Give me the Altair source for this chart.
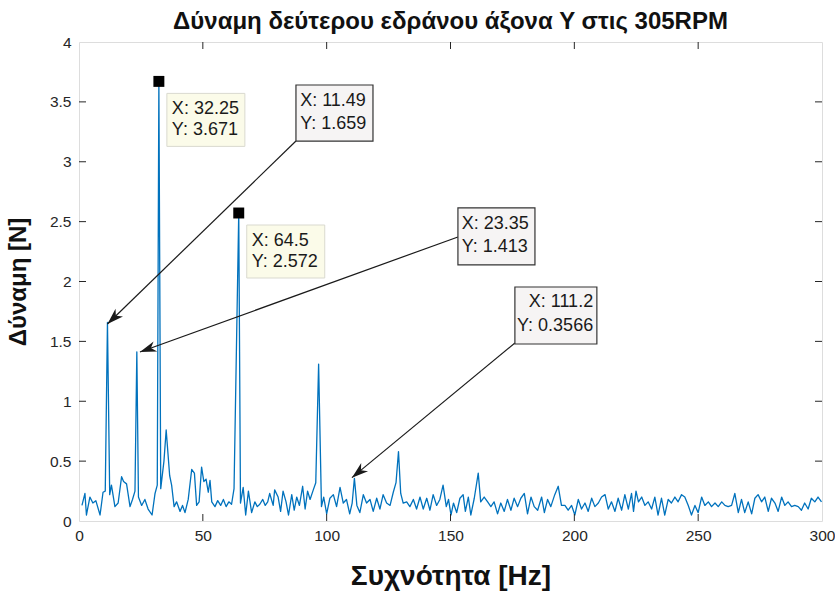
import math
import altair as alt
import pandas as pd

# ---------------- data ----------------
freq_a = [1.2, 2.4, 3.0, 4.4, 5.6, 6.8, 8.5, 9.7, 10.6, 11.49, 12.4, 13.1, 14.5, 15.8, 17.2, 18.0,
          19.2, 20.6, 21.6, 22.6, 23.35, 24.0, 25.3, 26.6, 27.9, 29.5, 30.7, 31.6, 32.25, 33.0,
          34.3, 35.2, 36.6, 37.4, 38.4, 39.4, 40.8, 41.8, 42.8, 44.1, 45.5, 46.6, 47.5, 48.5,
          49.5, 50.4, 51.3, 52.2, 52.9, 53.6, 54.9, 56.0, 57.2, 58.3, 59.4, 60.5, 61.6, 62.6,
          64.5, 65.2, 66.3, 67.3, 68.4, 69.7, 71.0, 72.0, 73.0, 74.2]
force_a = [0.13, 0.23, 0.05, 0.20, 0.15, 0.17, 0.05, 0.24, 0.25, 1.659, 0.22, 0.30, 0.12, 0.15, 0.37, 0.33,
           0.31, 0.12, 0.18, 0.25, 1.413, 0.20, 0.13, 0.18, 0.10, 0.05, 0.23, 0.30, 3.671, 0.27,
           0.50, 0.76, 0.38, 0.30, 0.12, 0.16, 0.08, 0.13, 0.07, 0.18, 0.43, 0.40, 0.13, 0.16,
           0.45, 0.33, 0.35, 0.24, 0.34, 0.16, 0.12, 0.17, 0.13, 0.18, 0.12, 0.16, 0.14, 0.27,
           2.572, 0.15, 0.28, 0.05, 0.25, 0.07, 0.16, 0.12, 0.14, 0.18]

freq_b = [75.2, 76.2, 77.0, 78.4, 79.0, 80.4, 81.4, 82.4, 83.6, 84.6, 85.9, 86.9, 87.9, 89.0,
          90.3, 91.3, 92.3, 93.3, 94.6, 95.6, 96.75, 97.9, 98.8, 100.0, 101.3, 102.7, 104.0,
          105.4, 106.7, 108.0, 109.3, 110.3, 111.2, 112.2, 113.4, 114.8, 116.1, 117.5, 118.8,
          120.2, 121.5, 122.8, 124.2, 125.6, 126.9, 128.0, 129.0, 129.9, 130.9, 132.3, 133.6,
          135.0, 136.3, 137.7, 139.0, 140.4, 141.7, 143.0, 144.4, 145.7, 147.0, 148.3, 149.2]
force_b = [0.13, 0.16, 0.23, 0.13, 0.26, 0.20, 0.08, 0.25, 0.16, 0.05, 0.22, 0.09, 0.20, 0.13,
           0.29, 0.10, 0.25, 0.18, 0.26, 0.32, 1.31, 0.12, 0.20, 0.06, 0.19, 0.22, 0.12,
           0.28, 0.15, 0.18, 0.06, 0.15, 0.3566, 0.13, 0.07, 0.22, 0.15, 0.18, 0.08,
           0.19, 0.10, 0.22, 0.15, 0.13, 0.24, 0.32, 0.58, 0.23, 0.15, 0.16, 0.12,
           0.18, 0.10, 0.20, 0.10, 0.19, 0.09, 0.22, 0.13, 0.18, 0.30, 0.12, 0.18]

freq_c = [150.2, 151.2, 152.5, 153.8, 155.1, 156.0, 157.2, 158.2, 159.6, 161.2, 162.2, 163.6,
          165.0, 166.3, 167.6, 169.0, 170.3, 171.7, 173.0, 174.4, 175.7, 177.1, 178.4, 179.8,
          181.1, 182.5, 183.8, 185.2, 186.8, 187.9, 189.2, 190.5, 192.1, 193.5, 194.8, 196.2,
          197.5, 198.9, 200.2, 201.6, 202.9, 204.3, 205.6, 207.0, 208.3, 209.7, 211.0, 212.4,
          213.7, 215.0, 216.4, 217.7, 219.1, 220.4, 221.8, 223.1, 223.9]
force_c = [0.05, 0.15, 0.07, 0.19, 0.22, 0.08, 0.20, 0.05, 0.19, 0.40, 0.16, 0.20,
           0.16, 0.12, 0.16, 0.06, 0.15, 0.08, 0.18, 0.09, 0.19, 0.12, 0.19, 0.23,
           0.06, 0.20, 0.12, 0.09, 0.20, 0.07, 0.18, 0.12, 0.22, 0.29, 0.13, 0.13,
           0.09, 0.13, 0.05, 0.18, 0.10, 0.15, 0.08, 0.19, 0.12, 0.15, 0.20, 0.22,
           0.10, 0.16, 0.08, 0.19, 0.09, 0.22, 0.10, 0.23, 0.08]

freq_d = [224.9, 225.9, 227.2, 228.5, 229.8, 231.2, 232.5, 233.8, 235.2, 236.5, 237.9, 239.2,
          240.6, 241.9, 243.3, 244.6, 246.0, 247.3, 248.7, 250.0, 251.4, 252.7, 254.1, 255.4,
          256.8, 258.1, 259.5, 260.8, 262.1, 263.5, 264.8, 266.2, 267.5, 268.8, 270.2, 271.6,
          272.9, 274.2, 275.6, 276.9, 278.3, 279.6, 281.0, 282.3, 283.7, 285.0, 286.3, 287.7,
          289.0, 290.4, 291.7, 293.0, 294.4, 295.7, 297.1, 298.4, 299.8]
force_d = [0.25, 0.16, 0.20, 0.13, 0.16, 0.10, 0.20, 0.05, 0.19, 0.05, 0.18, 0.15,
           0.20, 0.16, 0.22, 0.20, 0.13, 0.05, 0.13, 0.07, 0.20, 0.13, 0.16, 0.12,
           0.15, 0.12, 0.16, 0.13, 0.12, 0.13, 0.23, 0.07, 0.18, 0.07, 0.16, 0.06,
           0.19, 0.22, 0.16, 0.20, 0.08, 0.19, 0.15, 0.08, 0.20, 0.13, 0.16, 0.12,
           0.13, 0.12, 0.09, 0.15, 0.10, 0.19, 0.16, 0.20, 0.16]

x_ticks = [0, 50, 100, 150, 200, 250, 300]
y_ticks = [0, 0.5, 1, 1.5, 2, 2.5, 3, 3.5, 4]

# data tips (marker + yellow box)
tip_x = [32.25, 64.5]
tip_y = [3.671, 2.572]
tip_label_x = ["X: 32.25", "X: 64.5"]
tip_label_y = ["Y: 3.671", "Y: 2.572"]

# arrow annotations
ann_x = [11.49, 23.35, 111.2]
ann_y = [1.659, 1.413, 0.3566]
ann_label_x = ["X: 11.49", "X: 23.35", "X: 111.2"]
ann_label_y = ["Y: 1.659", "Y: 1.413", "Y: 0.3566"]

# ---------------- layout ----------------
W, H = 743, 479
PX_X = W / 300.0
PX_Y = H / 4.0
FONT = "Liberation Sans"
DARK = "#262626"
TFS = 18  # annotation text size

df = pd.DataFrame({"f": freq_a + freq_b + freq_c + freq_d,
                   "a": force_a + force_b + force_c + force_d})

xs = alt.Scale(domain=[0, 300], nice=False, zero=False)
ys = alt.Scale(domain=[0, 4], nice=False, zero=False)
xaxis = alt.Axis(values=x_ticks, ticks=False, domain=False, grid=False, labelFont=FONT,
                 labelFontSize=15.5, labelColor=DARK, labelPadding=7, labelFlush=False,
                 titleFont=FONT, titleFontSize=28, titleFontWeight="bold", titleColor="#111111",
                 titlePadding=19)
yaxis = alt.Axis(values=y_ticks, format="~g", ticks=False, domain=False, grid=False,
                 labelFont=FONT, labelFontSize=15.5, labelColor=DARK, labelPadding=8,
                 labelFlush=False, titleFont=FONT, titleFontSize=24, titleFontWeight="bold",
                 titleColor="#111111", titlePadding=19)
XT = "Συχνότητα [Hz]"
YT = "Δύναμη [N]"


def X(field, **kw):
    return alt.X(field, type="quantitative", scale=xs, axis=xaxis, title=XT, **kw)


def Y(field, **kw):
    return alt.Y(field, type="quantitative", scale=ys, axis=yaxis, title=YT, **kw)


line = alt.Chart(df).mark_line(color="#0072BD", strokeWidth=1.3, strokeJoin="round").encode(
    x=X("f"), y=Y("a"), order="f:Q")

# inward ticks on all four sides
xt = pd.DataFrame({"t": x_ticks[1:-1]})
yt = pd.DataFrame({"t": y_ticks[1:-1]})
tick_bottom = alt.Chart(xt).mark_rule(color=DARK, strokeWidth=1).encode(
    x=X("t"), y=alt.value(H), y2=alt.value(H - 7))
tick_top = alt.Chart(xt).mark_rule(color=DARK, strokeWidth=1).encode(
    x=X("t"), y=alt.value(0), y2=alt.value(7))
tick_left = alt.Chart(yt).mark_rule(color=DARK, strokeWidth=1).encode(
    y=Y("t"), x=alt.value(0), x2=alt.value(7))
tick_right = alt.Chart(yt).mark_rule(color=DARK, strokeWidth=1).encode(
    y=Y("t"), x=alt.value(W), x2=alt.value(W - 7))

# ---- data tips: boxes placed to the lower right of the marker ----
tips = pd.DataFrame({"x": tip_x, "y": tip_y, "lx": tip_label_x, "ly": tip_label_y})
tips["bx0"] = tips["x"] + 8 / PX_X
tips["bx1"] = tips["bx0"] + 78 / PX_X
tips["by0"] = tips["y"] - 12 / PX_Y
tips["by1"] = tips["by0"] - 53 / PX_Y
tips["tx"] = tips["bx0"] + 5 / PX_X
tips["ty1"] = tips["by0"] - 16 / PX_Y
tips["ty2"] = tips["by0"] - 37 / PX_Y

tip_box = alt.Chart(tips).mark_rect(fill="#fbfbe9", stroke="#d9d9cf", strokeWidth=1).encode(
    x=X("bx0"), x2="bx1", y=Y("by0"), y2="by1")
tip_t1 = alt.Chart(tips).mark_text(align="left", baseline="middle", font=FONT, fontSize=TFS,
                                   color="#1a1a1a").encode(x=X("tx"), y=Y("ty1"), text="lx:N")
tip_t2 = alt.Chart(tips).mark_text(align="left", baseline="middle", font=FONT, fontSize=TFS,
                                   color="#1a1a1a").encode(x=X("tx"), y=Y("ty2"), text="ly:N")
tip_marker = alt.Chart(tips).mark_square(color="black", opacity=1, size=120, filled=True).encode(
    x=X("x"), y=Y("y"))

# ---- arrow annotations (box positions in data units) ----
ann = pd.DataFrame({"x": ann_x, "y": ann_y, "lx": ann_label_x, "ly": ann_label_y})
ann["bx0"] = [87.6, 153.0, 176.0]
ann["bx1"] = [118.7, 184.1, 209.1]
ann["by0"] = [3.641, 2.614, 1.954]
ann["by1"] = [3.173, 2.138, 1.478]
ann["sx"] = [87.6, 153.0, 176.0]       # arrow start
ann["sy"] = [3.173, 2.372, 1.486]
ann["ex"] = [11.49, 24.6, 110.2]        # arrow tip
ann["ey"] = [1.645, 1.411, 0.362]
ann["align"] = ["left", "left", "right"]
ann["tx"] = [89.3, 154.5, 207.6]
ann["ty1"] = [3.507, 2.480, 1.829]
ann["ty2"] = [3.315, 2.288, 1.628]
ang = []
for sx, sy, ex, ey in zip(ann["sx"], ann["sy"], ann["ex"], ann["ey"]):
    dx = (ex - sx) * PX_X
    dy = -(ey - sy) * PX_Y
    ang.append(math.degrees(math.atan2(dx, -dy)) % 360)
ann["ang"] = ang

ann_box = alt.Chart(ann).mark_rect(fill="#f6f4f4", stroke="#333333", strokeWidth=1.2).encode(
    x=X("bx0"), x2="bx1", y=Y("by0"), y2="by1")
ann_left = ann[ann["align"] == "left"]
ann_right = ann[ann["align"] == "right"]
ann_t = []
for sub, al in ((ann_left, "left"), (ann_right, "right")):
    for col, lab in (("ty1", "lx"), ("ty2", "ly")):
        ann_t.append(alt.Chart(sub).mark_text(align=al, baseline="middle", font=FONT,
                                              fontSize=TFS, color="#1a1a1a").encode(
            x=X("tx"), y=Y(col), text=f"{lab}:N"))
ann_line = alt.Chart(ann).mark_rule(color="#1a1a1a", strokeWidth=1.2).encode(
    x=X("sx"), x2="ex", y=Y("sy"), y2="ey")
ann_head = alt.Chart(ann).mark_point(
    shape="M0,0 L0.62,1.9 L0,1.35 L-0.62,1.9 Z", filled=True, color="#1a1a1a", opacity=1,
    size=300, strokeWidth=0).encode(
    x=X("ex"), y=Y("ey"), angle=alt.Angle("ang:Q", scale=None))

chart = alt.layer(
    line, tick_bottom, tick_top, tick_left, tick_right,
    tip_box, tip_t1, tip_t2, tip_marker,
    ann_line, ann_head, ann_box, *ann_t,
).properties(
    width=W, height=H,
    title=alt.TitleParams("Δύναμη δεύτερου εδράνου άξονα Y στις 305RPM", font=FONT,
                          fontSize=24, fontWeight="bold", color="#111111", offset=1,
                          anchor="middle"),
    autosize=alt.AutoSizeParams(type="none"),
    padding={"left": 79, "top": 42, "right": 13, "bottom": 72},
).configure_view(stroke=DARK, strokeWidth=1).configure(background="white")

chart.save("out.html", embed_options={"renderer": "svg", "actions": False})
